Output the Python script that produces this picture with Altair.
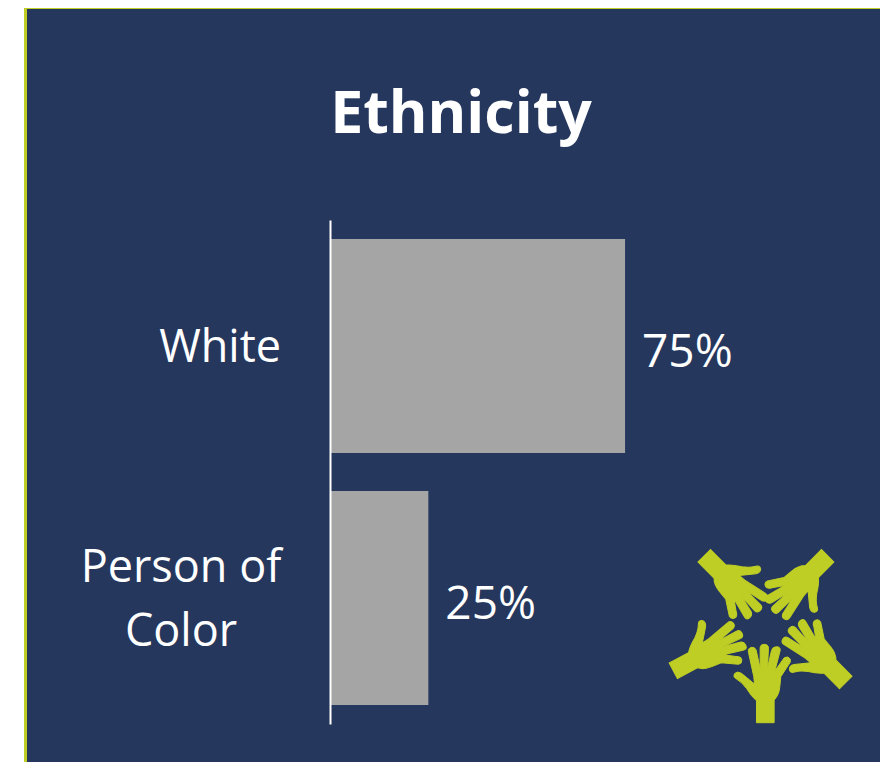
import re
import altair as alt
import pandas as pd

categories = ["White", "Person of Color"]
values = [75, 25]
labels = ["75%", "25%"]
label_lines = {"White": "White", "Person of Color": "Person of\nColor"}
label_style = {
    "White": dict(align="right", dx=-49, dy=2),
    "Person of Color": dict(align="center", dx=-149, dy=-30),
}

NAVY = "#25375D"
LIME = "#BFCE24"
GREY = "#A5A5A5"
FONT = "Open Sans"

LEFT, TOP = 322, 212
W, H = 550, 504

# One hand of the icon, drawn pointing up; the origin is the middle of the wrist end.
HAND = ("M350 578 L403 578 L403 510 Q418 495 420 470 L423 440 "
        "L451 397 Q455 385 443 381 Q433 379 427 392 L405 423 "
        "L421 362 Q423 350 410 350 Q398 350 395 362 L383 415 "
        "L386 355 Q386 343 373 343 Q361 343 361 355 L361 415 "
        "L349 360 Q345 350 335 352 Q323 355 326 367 L342 440 "
        "L344 462 L305 430 Q292 422 284 431 Q278 441 290 447 "
        "Q305 455 320 475 Q335 500 350 512 Z")

# page x, page y of each wrist end, and the rotation of the hand
HAND_PLACES = [
    (765.3, 722.7, 0),
    (845.8, 682.5, 315),
    (827.7, 555.8, 225),
    (704.2, 555.8, 135),
    (673.3, 670.7, 62),
]


def normalise(path, cx=376.5, cy=578, unit=270):
    nums = iter(range(10 ** 6))

    def repl(m):
        i = next(nums)
        v = float(m.group())
        return f"{(v - cx) / unit:.4f}" if i % 2 == 0 else f"{(v - cy) / unit:.4f}"

    return re.sub(r"\d+(?:\.\d+)?", repl, path)


df = pd.DataFrame({
    "category": categories,
    "value": values,
    "label": labels,
    "lines": [label_lines[c] for c in categories],
})

x = alt.X("value:Q", scale=alt.Scale(domain=[0, 139.8], nice=False), axis=None)
y = alt.Y(
    "category:N",
    sort=categories,
    title=None,
    scale=alt.Scale(paddingInner=0.15, paddingOuter=0.075),
    axis=alt.Axis(
        orient="left",
        ticks=False,
        grid=False,
        labels=False,
        domainColor="white",
        domainWidth=2,
        zindex=1,
    ),
)

blank = pd.DataFrame({"p": [0]})

panel = (
    alt.Chart(blank)
    .mark_rect(fill=NAVY, stroke=LIME, strokeWidth=3)
    .encode(
        x=alt.value(-304.5),
        x2=alt.value(W + 20),
        y=alt.value(-212.5),
        y2=alt.value(H + 80),
    )
)

bars = alt.Chart(df).mark_bar(color=GREY, cornerRadius=0).encode(x=x, y=y)

values_text = (
    alt.Chart(df)
    .mark_text(align="left", baseline="middle", dx=17, dy=7, color="white", font=FONT, fontSize=46)
    .encode(x=x, y=y, text="label:N")
)

title_text = (
    alt.Chart(pd.DataFrame({"t": ["Ethnicity"]}))
    .mark_text(align="center", baseline="alphabetic", color="white", font=FONT, fontSize=59, fontWeight="bold")
    .encode(x=alt.value(131), y=alt.value(-87), text="t:N")
)

cat_layers = [
    alt.Chart(df[df.category == c])
    .mark_text(
        baseline="middle", lineBreak="\n", lineHeight=64,
        color="white", font=FONT, fontSize=45, **label_style[c],
    )
    .encode(x=alt.value(0), y=y, text="lines:N")
    for c in categories
]

shape = normalise(HAND)
hand_layers = [
    alt.Chart(blank.assign(angle=a))
    .mark_point(filled=True, fill=LIME, stroke=LIME, strokeWidth=1, opacity=1, shape=shape, size=32400)
    .encode(
        x=alt.value(px - 8 - LEFT),
        y=alt.value(py - 8 - TOP),
        angle=alt.Angle("angle:Q", scale=None),
    )
    for px, py, a in HAND_PLACES
]

chart = (
    alt.layer(panel, bars, values_text, title_text, *cat_layers, *hand_layers)
    .properties(
        width=W,
        height=H,
        padding={"left": LEFT, "top": TOP, "right": 0, "bottom": 38},
        autosize=alt.AutoSizeParams(type="none"),
        background="white",
    )
    .configure_view(stroke=None)
)

chart.save("out.html", embed_options={"renderer": "svg", "actions": False})
